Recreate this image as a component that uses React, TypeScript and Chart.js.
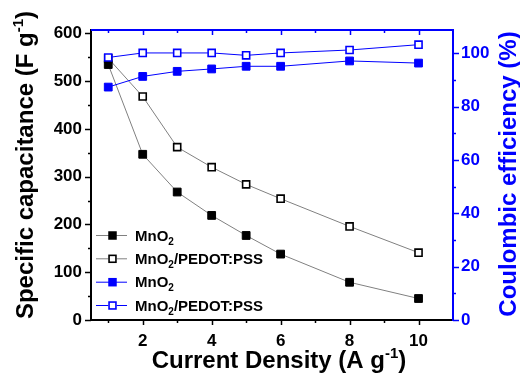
import React, { useEffect, useRef } from "react";
import { Chart, registerables } from "chart.js";

Chart.register(...registerables);

// ---- data ----
const currentDensity = [1, 2, 3, 4, 5, 6, 8, 10];
const capMnO2 = [535, 347, 268, 219, 177, 138, 79, 45];
const capComposite = [548, 468, 362, 320, 284, 254, 196, 141];
const ceMnO2 = [87.3, 91.3, 93.2, 94.1, 95.1, 95.1, 97.1, 96.3];
const ceComposite = [98.4, 100.1, 100.1, 100.1, 99.2, 100.1, 101.2, 103.2];

const xTicks = [2, 4, 6, 8, 10];
const xMinorTicks = [1, 3, 5, 7, 9];
const capTicks = [0, 100, 200, 300, 400, 500, 600];
const capMinorTicks = [50, 150, 250, 350, 450, 550];
const ceTicks = [0, 20, 40, 60, 80, 100];
const ceMinorTicks = [10, 30, 50, 70, 90];

const FONT = "'Liberation Sans', Arial, Helvetica, sans-serif";
const BLUE = "#0000ff";
const GRAY = "#808080";

type Part = { t: string; size: number; dy?: number };

function drawRich(ctx: CanvasRenderingContext2D, parts: Part[], x: number, y: number, align: "left" | "center") {
  let total = 0;
  for (const p of parts) {
    ctx.font = `bold ${p.size}px ${FONT}`;
    total += ctx.measureText(p.t).width;
  }
  let cx = align === "center" ? x - total / 2 : x;
  ctx.textAlign = "left";
  ctx.textBaseline = "alphabetic";
  for (const p of parts) {
    ctx.font = `bold ${p.size}px ${FONT}`;
    ctx.fillText(p.t, cx, y + (p.dy || 0));
    cx += ctx.measureText(p.t).width;
  }
}

const mno2Label: Part[] = [
  { t: "MnO", size: 15 },
  { t: "2", size: 10, dy: 4 },
];
const compositeLabel: Part[] = [
  { t: "MnO", size: 15 },
  { t: "2", size: 10, dy: 4 },
  { t: "/PEDOT:PSS", size: 15 },
];

const legendItems = [
  { label: mno2Label, line: GRAY, color: "#000000", filled: true },
  { label: compositeLabel, line: GRAY, color: "#000000", filled: false },
  { label: mno2Label, line: BLUE, color: BLUE, filled: true },
  { label: compositeLabel, line: BLUE, color: BLUE, filled: false },
];

const decorPlugin = {
  id: "decor",
  afterDraw(chart: any) {
    const ctx: CanvasRenderingContext2D = chart.ctx;
    const { left, right, top, bottom } = chart.chartArea;
    const xs = chart.scales.x;
    const ys = chart.scales.y;
    const y1 = chart.scales.y1;
    ctx.save();
    // top border
    ctx.strokeStyle = BLUE;
    ctx.lineWidth = 2;
    ctx.beginPath();
    ctx.moveTo(left, top);
    ctx.lineTo(right + 1, top);
    ctx.stroke();

    ctx.lineWidth = 1.5;
    // bottom ticks (outward) and top ticks (inward)
    const drawX = (v: number, len: number) => {
      const px = Math.round(xs.getPixelForValue(v)) + 0.5;
      ctx.strokeStyle = "#000";
      ctx.beginPath();
      ctx.moveTo(px, bottom);
      ctx.lineTo(px, bottom + len);
      ctx.stroke();
      ctx.strokeStyle = BLUE;
      ctx.beginPath();
      ctx.moveTo(px, top);
      ctx.lineTo(px, top + len);
      ctx.stroke();
    };
    xTicks.forEach((v) => drawX(v, 5));
    xMinorTicks.forEach((v) => drawX(v, 3));

    const drawY = (scale: any, v: number, len: number, side: "l" | "r", color: string) => {
      const py = Math.round(scale.getPixelForValue(v)) + 0.5;
      ctx.strokeStyle = color;
      ctx.beginPath();
      if (side === "l") {
        ctx.moveTo(left, py);
        ctx.lineTo(left - len, py);
      } else {
        ctx.moveTo(right, py);
        ctx.lineTo(right + len, py);
      }
      ctx.stroke();
    };
    capTicks.forEach((v) => drawY(ys, v, 6, "l", "#000"));
    capMinorTicks.forEach((v) => drawY(ys, v, 3, "l", "#000"));
    ceTicks.forEach((v) => drawY(y1, v, 6, "r", BLUE));
    ceMinorTicks.forEach((v) => drawY(y1, v, 3, "r", BLUE));

    // axis titles
    ctx.fillStyle = "#000";
    drawRich(
      ctx,
      [
        { t: "Current Density (A g", size: 24 },
        { t: "-1", size: 15, dy: -10 },
        { t: ")", size: 24 },
      ],
      279,
      368,
      "center"
    );
    ctx.save();
    ctx.translate(33, 165);
    ctx.rotate(-Math.PI / 2);
    drawRich(
      ctx,
      [
        { t: "Specific capacitance (F g", size: 24 },
        { t: "-1", size: 15, dy: -10 },
        { t: ")", size: 24 },
      ],
      0,
      0,
      "center"
    );
    ctx.restore();
    ctx.save();
    ctx.fillStyle = BLUE;
    ctx.translate(516, 174);
    ctx.rotate(-Math.PI / 2);
    drawRich(ctx, [{ t: "Coulombic efficiency (%)", size: 24 }], 0, 0, "center");
    ctx.restore();

    // legend
    const rowY = [235, 258.3, 281.7, 305];
    legendItems.forEach((it, i) => {
      const y = rowY[i];
      ctx.strokeStyle = it.line;
      ctx.lineWidth = 1;
      ctx.beginPath();
      ctx.moveTo(96, y + 0.5);
      ctx.lineTo(127, y + 0.5);
      ctx.stroke();
      const s = 8.5;
      const mx = 112.5 - s / 2;
      const my = y + 0.5 - s / 2;
      if (it.filled) {
        ctx.fillStyle = it.color;
        ctx.fillRect(mx, my, s, s);
      } else {
        ctx.fillStyle = "#fff";
        ctx.fillRect(mx, my, s, s);
        ctx.strokeStyle = it.color;
        ctx.lineWidth = 1.6;
        ctx.strokeRect(mx + 0.8, my + 0.8, s - 1.6, s - 1.6);
      }
      ctx.fillStyle = "#000";
      drawRich(ctx, it.label, 135, y + 5.5, "left");
    });
    ctx.restore();
  },
};

export default function App() {
  const ref = useRef<HTMLCanvasElement | null>(null);
  useEffect(() => {
    document.body.style.margin = "0";
    const canvas = ref.current;
    if (!canvas) return;
    const pts = (ys: number[]) => currentDensity.map((x, i) => ({ x, y: ys[i] }));
    const chart = new Chart(canvas, {
      type: "line",
      data: {
        datasets: [
          {
            data: pts(ceMnO2),
            yAxisID: "y1",
            borderColor: BLUE,
            borderWidth: 1,
            pointStyle: "rect",
            pointRadius: 5.5,
            pointBackgroundColor: BLUE,
            pointBorderColor: BLUE,
            pointBorderWidth: 1,
          },
          {
            data: pts(ceComposite),
            yAxisID: "y1",
            borderColor: BLUE,
            borderWidth: 1,
            pointStyle: "rect",
            pointRadius: 5,
            pointBackgroundColor: "#ffffff",
            pointBorderColor: BLUE,
            pointBorderWidth: 1.6,
          },
          {
            data: pts(capMnO2),
            yAxisID: "y",
            borderColor: GRAY,
            borderWidth: 1,
            pointStyle: "rect",
            pointRadius: 5.5,
            pointBackgroundColor: "#000000",
            pointBorderColor: "#000000",
            pointBorderWidth: 1,
          },
          {
            data: pts(capComposite),
            yAxisID: "y",
            borderColor: GRAY,
            borderWidth: 1,
            pointStyle: "rect",
            pointRadius: 5,
            pointBackgroundColor: "#ffffff",
            pointBorderColor: "#000000",
            pointBorderWidth: 1.6,
          },
        ],
      } as any,
      options: {
        responsive: false,
        animation: false,
        layout: { padding: { top: 30, left: 0, right: 0, bottom: 0 } },
        plugins: { legend: { display: false }, tooltip: { enabled: false } },
        scales: {
          x: {
            type: "linear",
            min: 0.5,
            max: 11,
            afterFit: (s: any) => {
              s.height = 56;
            },
            afterBuildTicks: (s: any) => {
              s.ticks = xTicks.map((v) => ({ value: v }));
            },
            grid: { display: true, drawOnChartArea: false, drawTicks: false },
            border: { display: true, color: "#000", width: 2 },
            ticks: {
              color: "#000",
              padding: 11,
              font: { family: FONT, size: 17, weight: "bold" },
            },
          },
          y: {
            type: "linear",
            position: "left",
            min: 0,
            max: 607.3,
            afterFit: (s: any) => {
              s.width = 91;
            },
            afterBuildTicks: (s: any) => {
              s.ticks = capTicks.map((v) => ({ value: v }));
            },
            grid: { display: true, drawOnChartArea: false, drawTicks: false },
            border: { display: true, color: "#000", width: 2 },
            ticks: {
              color: "#000",
              padding: 9,
              font: { family: FONT, size: 17, weight: "bold" },
            },
          },
          y1: {
            type: "linear",
            position: "right",
            min: 0,
            max: 108.7,
            afterFit: (s: any) => {
              s.width = 67;
            },
            afterBuildTicks: (s: any) => {
              s.ticks = ceTicks.map((v) => ({ value: v }));
            },
            grid: { display: true, drawOnChartArea: false, drawTicks: false },
            border: { display: true, color: BLUE, width: 2 },
            ticks: {
              color: BLUE,
              padding: 8,
              font: { family: FONT, size: 17, weight: "bold" },
            },
          },
        },
      } as any,
      plugins: [decorPlugin],
    });
    return () => chart.destroy();
  }, []);
  return (
    <div style={{ width: 520, height: 376, background: "#fff" }}>
      <canvas ref={ref} width={520} height={376} />
    </div>
  );
}
